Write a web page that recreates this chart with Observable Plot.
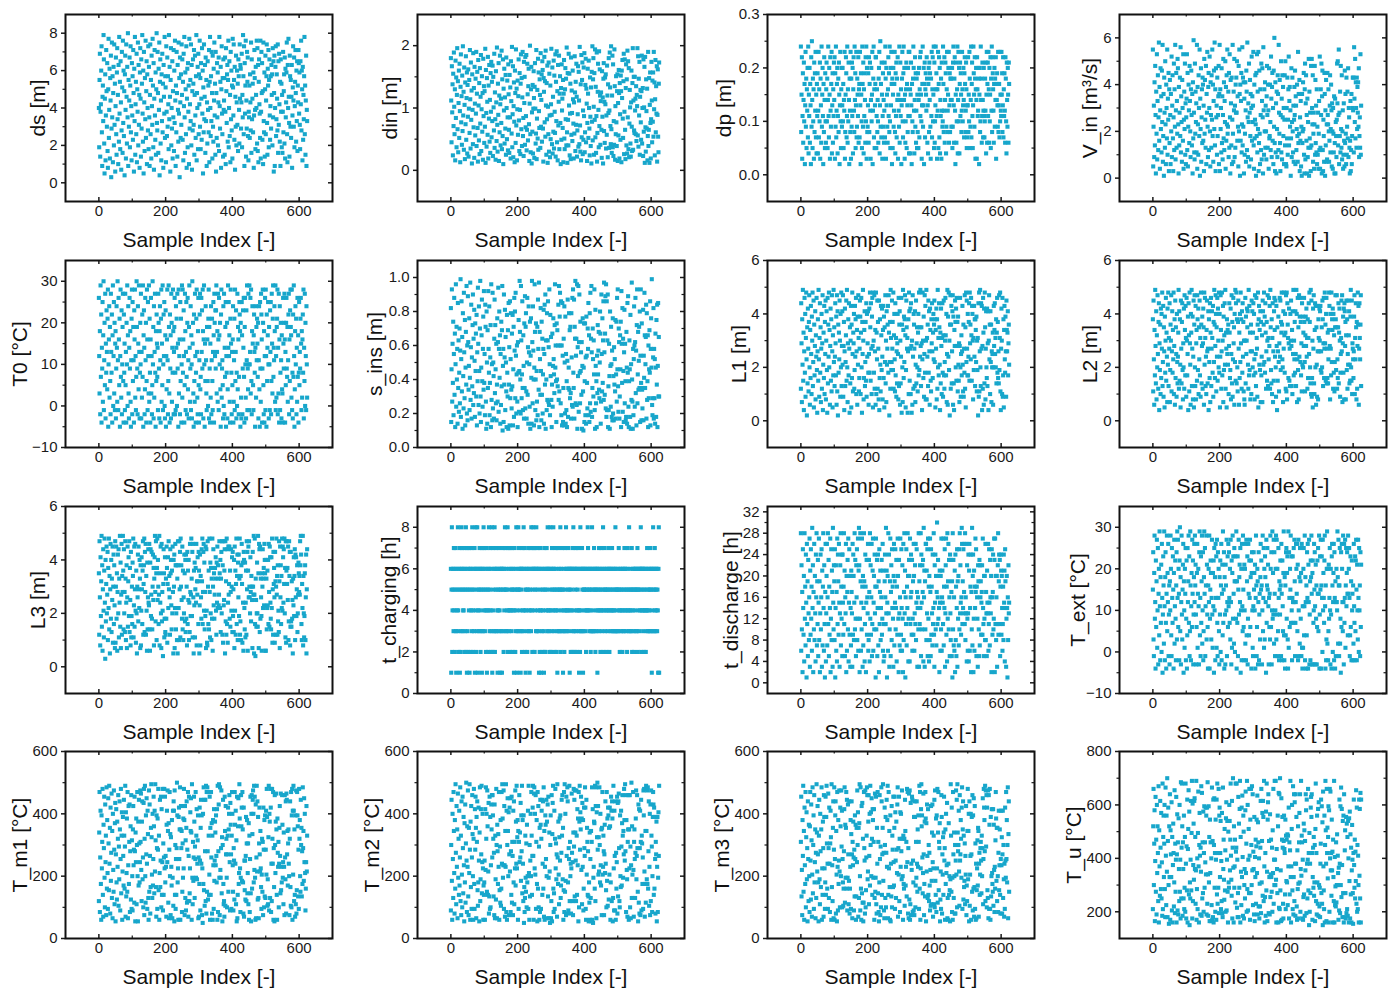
<!DOCTYPE html>
<html>
<head>
<meta charset="utf-8">
<script src="https://cdn.jsdelivr.net/npm/d3@7"></script>
<script src="https://cdn.jsdelivr.net/npm/@observablehq/plot@0.6"></script>
<style>
  html, body { margin: 0; padding: 0; background: #ffffff; }
  #chart { position: relative; width: 1397px; height: 994px; overflow: hidden; background: #ffffff; }
  .panel { position: absolute; }
  .panel svg { overflow: visible; display: block; }
</style>
</head>
<body>
<div id="chart"></div>
<script>
// ---------------- DATA (sample index = array position) ----------------
// ds in decimetres
const ds_dm = [
40,19,55,69,14,38,42,60,73,27,9,46,52,33,79,66,21,5,45,58,12,36,71,49,30,
64,17,8,50,77,24,39,61,13,56,44,68,3,29,75,35,57,11,48,62,20,74,31,53,6,
41,67,26,15,59,72,34,47,10,63,22,78,37,54,18,65,43,7,28,70,51,16,76,32,60,
25,49,4,58,68,39,13,74,46,21,62,35,80,9,55,30,44,67,19,52,73,27,41,12,64,
36,57,23,71,48,6,61,33,78,15,42,54,26,69,11,50,38,75,20,63,31,47,8,59,72,
45,14,66,29,53,79,37,22,60,5,70,43,17,56,34,76,24,49,65,10,58,40,28,73,18,
62,35,9,47,74,26,55,13,68,41,31,77,52,19,64,7,45,71,36,23,59,15,50,80,32,
28,70,48,16,61,39,75,4,54,66,21,44,12,58,33,69,27,53,8,63,46,37,78,24,57,
51,11,73,38,25,67,30,57,42,18,79,34,62,46,6,55,72,20,40,29,65,13,49,35,71,
17,60,32,76,44,9,52,27,70,48,14,63,39,22,75,37,56,3,67,43,24,58,31,74,47,
66,23,54,12,69,41,78,35,16,59,50,26,73,8,45,61,19,64,38,52,10,77,29,42,55,
33,74,20,63,7,49,28,66,53,31,71,15,47,68,36,24,57,79,12,48,40,62,18,69,26,
58,42,76,30,56,18,64,45,23,72,37,60,5,51,27,74,34,46,63,16,67,33,55,9,43,
21,65,39,52,27,71,11,54,78,40,25,57,33,70,48,13,68,30,22,61,44,75,36,53,15,
70,6,48,24,64,35,59,20,43,67,17,78,41,29,54,62,8,50,73,37,26,56,14,66,39,
44,56,15,67,38,10,72,49,32,58,63,22,55,76,19,40,65,25,47,11,70,34,60,28,52,
13,77,51,36,74,55,23,62,7,46,30,68,20,43,60,31,53,17,66,57,39,21,74,45,63,
61,29,43,69,19,47,35,79,57,26,73,9,64,37,52,76,14,44,29,70,54,67,25,12,38,
35,52,24,58,43,28,75,16,66,34,45,53,27,59,8,36,71,56,39,18,62,47,40,76,21,
72,17,63,11,54,66,42,37,24,76,13,38,70,48,64,23,49,10,75,33,27,59,14,50,68,
26,44,57,74,32,15,61,52,71,19,55,66,36,23,41,57,29,63,47,58,20,72,35,65,6,
48,68,9,40,62,73,25,34,58,45,28,74,16,65,31,69,42,22,54,9,66,38,53,19,47,
16,38,70,27,49,58,21,67,13,61,35,43,59,75,26,11,63,40,77,46,32,14,68,57,30,
55,24,46,63,8,36,51,73,44,30,67,19,41,54,71,48,22,60,33,65,17,52,43,71,64,
37,59,31,18,65,42,76,28,60,50,12,62,23,47,34,57,78,26,52,15,44,68,9,39,33
];
// din in centimetres
const din_cm = [
180,112,45,167,93,138,24,155,71,189,102,58,130,16,176,84,149,37,121,196,66,143,29,108,160,
52,171,95,13,134,186,77,119,41,152,63,199,88,126,33,165,105,18,141,74,183,49,116,157,27,
137,86,162,22,99,145,60,193,114,35,173,81,128,11,154,97,42,188,69,132,20,166,107,56,147,
91,190,39,123,158,68,14,177,104,48,140,26,164,75,118,185,31,98,151,62,124,17,179,87,135,
44,127,70,195,12,161,92,38,148,110,57,182,19,136,83,169,46,113,28,156,94,174,53,142,79,
168,23,150,101,64,187,36,125,82,17,159,109,47,197,73,30,139,89,172,15,120,61,184,106,40,
115,76,192,34,146,55,178,10,131,96,163,43,117,67,153,25,181,100,50,144,85,32,170,122,65,
28,153,85,133,19,175,111,59,198,37,90,167,21,103,141,78,13,160,124,44,194,72,131,16,98,
144,57,119,178,80,31,156,97,26,139,186,66,148,39,117,190,55,84,23,174,108,150,41,182,69,
87,185,32,65,171,122,48,135,163,74,15,107,200,58,29,130,166,11,93,62,137,27,99,159,116,
20,134,172,99,43,59,193,18,83,129,51,179,33,157,95,68,146,121,36,188,70,113,154,46,175,
161,67,14,148,126,182,77,143,54,192,104,25,140,82,168,12,102,58,173,30,155,88,21,136,50,
106,195,89,42,165,27,118,62,176,35,152,94,60,186,22,142,79,191,45,127,16,169,72,110,184,
34,123,151,76,10,132,49,170,96,115,68,145,13,123,177,51,34,130,164,82,147,40,197,61,12,
156,81,40,187,104,155,24,91,139,18,181,57,128,92,47,160,114,75,19,109,59,183,125,31,142,
73,171,118,22,64,90,167,38,158,112,42,198,72,30,138,16,185,53,145,173,26,96,49,165,87,
188,29,61,137,179,45,131,107,15,76,163,123,52,176,100,67,24,149,86,39,133,11,158,78,199,
48,146,180,102,25,156,81,194,53,134,28,87,189,14,60,126,171,97,37,191,71,162,120,41,111,
125,65,20,159,86,117,11,147,172,63,110,44,149,106,154,35,88,57,168,120,21,138,92,180,36,
96,189,133,71,42,199,66,28,120,184,37,170,23,79,41,194,135,17,103,58,151,77,39,127,154,
15,108,56,161,124,19,140,90,49,152,127,13,160,116,177,83,52,143,187,26,94,178,65,18,132,
170,40,146,27,192,85,175,34,164,21,75,129,101,43,22,109,160,70,31,140,196,33,112,150,64,
60,150,96,115,58,135,47,121,103,196,56,183,38,147,88,174,25,118,129,77,49,127,184,43,100,
132,23,178,62,101,166,12,182,69,30,146,95,67,131,16,55,190,39,65,148,12,105,157,76,19,
82,174,112,45,144,78,157,54,190,98,141,24,114,177,61,135,91,167,14,89,162,54,29,139,173
];
// dp in centimetres
const dp_cm = [
24,8,15,22,3,11,19,6,14,21,10,17,2,13,23,9,18,5,16,12,20,7,24,4,15,
11,20,6,17,13,2,22,9,25,14,5,18,10,16,3,21,8,19,12,23,7,15,4,17,11,
19,4,12,23,7,16,10,21,3,18,13,6,24,9,15,20,11,2,17,8,22,14,5,19,10,
6,16,21,10,18,5,14,24,11,7,20,15,3,22,12,9,17,23,4,13,19,6,16,11,21,
14,22,3,19,9,24,7,12,17,20,4,11,18,8,21,15,2,13,23,10,5,16,20,9,13,
20,10,17,5,14,12,23,3,8,15,22,19,7,11,24,6,16,10,21,14,2,18,12,8,23,
3,18,9,21,11,20,4,16,22,12,8,24,14,19,5,13,23,7,9,18,15,11,22,6,16,
17,7,23,13,2,19,15,10,5,24,17,9,21,4,16,11,19,14,6,22,10,24,3,20,8,
9,13,19,6,22,8,17,21,12,3,14,20,10,15,23,2,12,18,24,7,16,5,13,17,22,
22,5,11,16,8,14,10,6,18,20,23,4,13,25,9,17,7,21,15,3,11,19,9,14,6,
12,21,7,24,18,3,20,13,15,9,6,16,22,11,19,8,24,10,5,20,13,23,17,2,18,
5,15,20,9,12,17,23,8,4,19,11,21,7,18,14,22,3,15,12,9,24,6,14,21,11,
16,2,13,18,23,10,7,19,24,14,20,3,15,6,10,16,21,5,17,13,8,20,11,23,4,
23,11,16,4,15,21,13,2,17,10,8,18,24,20,12,4,14,22,9,19,6,12,18,5,15,
8,19,5,14,20,7,16,22,11,23,15,10,3,13,17,24,9,13,20,2,17,21,7,16,19,
15,12,22,18,6,13,4,17,20,8,21,14,19,9,3,18,11,23,7,16,22,10,15,24,5,
21,6,10,13,24,16,19,11,3,16,12,23,5,17,22,7,20,4,14,11,18,3,21,12,9,
10,24,17,8,12,22,6,14,21,19,4,9,16,23,8,12,15,20,23,6,13,19,8,18,14,
18,9,14,20,5,9,21,24,13,6,18,22,12,2,15,21,6,10,16,24,4,14,23,10,20,
4,17,21,11,19,15,8,12,23,16,10,13,20,14,7,19,22,17,8,12,21,16,5,13,7,
13,22,8,15,10,23,18,5,9,14,24,7,17,21,11,5,13,24,19,15,9,22,18,3,16,
20,14,3,22,16,11,12,20,18,2,15,20,8,10,24,14,18,6,11,21,14,7,12,20,11,
7,10,18,12,21,4,15,23,6,17,21,11,23,16,6,20,10,15,22,5,18,12,24,8,22,
19,16,12,6,17,20,9,18,14,22,3,17,14,19,13,9,23,8,13,17,7,23,10,15,12,
11,23,15,19,8,13,22,7,16,11,19,12,6,22,18,10,4,21,14,9,20,15,6,21,17
];
// V_in in tenths of m³/s
const V_in_tenths = [
55,5,22,31,9,41,14,48,27,2,37,19,53,8,33,44,12,26,58,16,39,4,29,47,21,
35,11,46,24,57,7,18,36,1,43,28,13,50,23,6,40,30,17,55,10,34,25,45,3,38,
15,42,27,6,36,20,52,9,31,44,17,3,26,49,12,38,22,57,8,29,45,13,33,19,51,
47,23,2,39,14,28,43,18,56,11,35,24,7,42,30,16,53,4,25,37,21,49,10,32,6,
26,34,53,12,45,5,22,40,29,15,48,33,20,9,38,46,27,14,36,2,41,17,59,28,11,
8,49,19,37,24,32,11,57,4,39,23,10,44,30,18,55,1,34,21,47,7,26,38,15,43,
40,16,31,3,51,19,42,25,13,48,6,36,28,54,22,9,39,45,12,30,52,20,5,41,27,
13,44,25,55,18,40,7,33,46,21,58,14,38,3,47,26,31,10,43,18,27,35,48,6,36,
57,3,38,21,30,11,47,15,35,8,27,51,17,41,12,33,24,50,4,39,16,44,23,55,19,
22,37,9,45,13,53,26,2,42,32,14,43,6,25,57,19,7,37,29,51,9,31,13,40,28,
43,28,50,16,35,22,5,48,20,55,36,1,40,16,33,45,11,23,56,14,43,22,41,2,34,
10,19,41,29,7,46,37,12,58,26,9,32,24,49,5,28,42,18,36,8,30,52,16,35,24,
31,54,14,4,40,17,25,44,23,1,45,18,53,11,37,21,54,3,15,46,19,6,38,27,12,
49,8,33,47,26,2,56,29,10,38,20,41,13,31,20,8,35,48,27,13,40,29,4,47,17,
18,40,24,12,52,34,9,39,45,16,30,6,46,22,60,15,3,41,11,32,2,37,21,9,44,
36,12,57,28,19,42,15,3,27,50,11,34,8,44,26,39,18,30,6,25,44,14,50,30,6,
5,30,17,43,10,25,38,52,14,33,39,22,29,1,17,47,9,24,43,20,11,31,7,25,39,
27,46,6,35,31,12,21,40,18,7,54,15,36,19,42,3,26,16,33,5,22,1,36,15,20,
41,21,45,10,2,38,49,8,32,44,16,27,2,34,9,24,13,51,1,37,17,28,13,3,48,
14,51,30,23,44,7,19,28,4,23,48,10,42,15,31,11,38,6,22,10,28,4,19,33,12,
52,4,13,38,27,49,2,35,46,12,3,25,18,7,45,36,1,29,14,42,7,23,8,45,27,
23,38,20,7,16,31,44,11,21,40,29,5,32,20,4,30,19,11,35,2,15,34,2,24,18,
9,25,49,32,50,14,27,55,6,28,18,37,11,48,21,13,44,8,20,29,4,10,32,16,5,
46,15,36,19,6,43,10,22,37,17,47,9,30,26,13,2,16,33,3,12,36,6,18,30,43,
29,43,11,56,34,24,51,17,41,30,13,43,21,39,28,41,22,47,9,18,26,13,53,10,31
];
// T0 in °C
const T0_C = [
26,12,3,18,-2,29,7,22,-4,14,9,25,1,17,30,-1,11,20,5,27,-3,15,8,23,13,
4,21,28,-5,10,16,24,2,19,6,-2,27,13,8,22,-4,17,29,0,12,25,3,20,-1,15,
18,-3,9,24,14,1,30,11,-1,26,16,5,21,-5,12,28,7,2,23,-2,10,19,27,6,-4,
22,8,15,-1,27,5,13,-4,20,10,29,0,17,24,3,-3,14,26,9,18,1,-5,11,21,28,
-2,25,6,19,11,-4,23,16,28,2,12,-1,7,30,19,9,-2,24,15,4,29,13,-3,8,20,
10,27,-3,13,2,22,7,29,-5,17,23,14,-2,4,26,11,20,-4,6,28,16,-1,25,12,3,
29,1,21,8,-4,16,26,3,12,-2,5,30,10,19,-3,24,2,13,27,8,-5,18,6,22,15,
7,14,-1,27,20,9,-3,18,24,11,-4,21,28,1,15,5,29,-1,10,22,12,25,0,-3,17,
23,-5,12,4,16,28,11,-2,6,29,19,3,-4,22,9,17,-3,27,20,1,14,8,28,18,-2,
13,19,26,-2,8,-1,24,14,21,0,27,9,15,-5,28,3,12,16,-2,25,6,21,-4,10,29,
2,28,8,16,23,12,-4,5,27,18,-1,13,25,7,-2,20,26,4,11,-3,19,29,14,1,9,
24,-1,17,10,-3,30,15,20,3,-5,22,6,1,27,12,-4,8,21,28,13,2,-2,18,26,5,
-4,11,22,27,4,7,-2,26,13,23,9,28,18,-3,16,29,10,-5,15,6,24,11,3,-1,19,
16,6,0,21,28,-3,19,9,-4,15,2,24,-2,11,21,6,-1,13,25,17,-4,27,20,12,23,
9,23,29,3,13,18,1,27,16,-1,26,17,10,20,4,-5,22,28,2,9,11,5,-3,24,0,
27,-2,14,7,19,25,-5,12,8,20,-3,4,29,14,25,12,17,1,-4,21,28,15,8,-2,13,
5,16,24,-4,1,11,21,-1,28,6,13,23,-3,8,0,27,4,19,16,-2,7,25,22,18,-5,
20,2,-3,25,17,-2,9,23,14,26,7,-4,19,26,10,2,-3,23,11,29,-1,9,4,27,10,
-1,29,10,13,26,3,28,6,-2,18,24,15,5,-1,17,22,13,8,-5,14,24,2,19,11,21,
15,7,20,-3,11,24,4,-5,25,9,1,27,22,16,-4,9,28,20,5,-2,18,-4,12,26,-1,
28,12,-5,22,6,14,17,25,10,-3,19,10,-1,23,13,25,-2,6,27,15,3,21,29,7,14,
11,24,18,1,29,-1,12,2,19,21,28,-2,14,3,27,-4,16,24,-1,8,20,11,-3,17,4,
3,-4,26,15,9,20,27,16,-4,13,5,20,26,9,7,19,1,11,22,27,-2,16,6,23,28,
19,17,2,28,-1,8,-3,22,7,29,12,-5,4,18,24,10,21,-2,14,1,26,7,17,-4,8,
25,5,13,9,21,26,15,-1,18,2,16,22,8,28,-3,14,6,27,0,20,12,-1,24,10,2
];
// s_ins in centimetres
const s_ins_cm = [
82,15,46,93,27,61,38,74,19,55,88,31,67,12,49,96,24,71,40,58,14,85,35,63,21,
44,70,26,57,99,18,52,86,33,65,11,79,42,23,91,56,29,75,13,47,68,37,95,20,60,
16,89,62,34,48,76,22,41,97,28,59,84,17,53,36,72,90,25,64,32,81,51,18,73,45,
67,30,78,13,56,39,94,61,25,83,45,20,70,98,30,15,47,66,87,39,24,58,77,34,92,
38,55,19,84,71,27,11,80,50,14,69,35,92,58,44,83,19,38,53,72,12,96,28,49,16,
91,23,50,42,17,64,87,32,72,46,26,61,16,37,76,27,62,94,21,58,80,41,66,14,55,
25,74,36,69,95,10,48,58,15,90,37,53,81,22,65,50,33,12,78,44,30,69,11,85,37,
59,13,86,29,52,79,34,23,67,36,78,13,46,71,18,88,57,80,29,91,54,20,43,60,27,
12,62,44,75,21,45,98,68,40,20,95,63,29,43,86,35,22,66,48,17,73,35,89,23,71,
79,33,17,50,88,31,59,14,83,56,49,24,74,11,54,76,41,14,98,62,26,83,57,40,13,
47,96,68,22,40,73,16,45,27,71,19,87,58,34,97,12,68,52,31,82,45,16,74,31,64,
20,43,58,81,14,55,84,37,90,11,63,40,22,79,28,63,86,27,59,25,93,49,19,78,42,
65,28,12,37,67,24,48,76,52,43,32,72,96,47,60,39,15,73,40,69,36,60,84,28,95,
33,77,91,60,26,86,19,60,13,85,54,15,35,64,13,83,50,20,77,14,55,22,39,12,51,
87,18,35,47,79,34,69,29,71,32,17,79,53,25,88,24,93,44,35,87,17,71,64,98,26,
54,64,25,96,11,59,42,95,21,62,90,44,26,74,45,56,31,62,11,48,76,33,10,47,73,
15,39,73,19,53,14,77,54,38,23,70,58,85,19,66,15,79,26,91,21,64,95,56,18,35,
70,52,30,63,43,93,22,11,81,48,26,39,12,54,32,72,43,57,68,34,29,50,80,67,14,
27,90,55,33,76,38,63,86,28,97,56,31,67,89,23,96,18,86,22,63,90,12,36,22,61,
42,11,80,48,24,71,49,18,57,16,76,20,42,16,59,37,52,33,75,17,43,74,27,88,46,
93,36,21,70,62,17,30,66,46,74,12,92,61,38,82,21,64,45,15,56,81,26,61,39,16,
18,68,47,14,85,44,89,24,12,39,63,46,18,78,11,49,28,97,40,27,11,58,19,52,83,
60,24,62,88,32,57,13,72,93,26,43,68,34,51,71,35,80,15,54,93,38,16,73,34,23,
35,81,16,54,41,91,66,35,49,65,84,17,79,28,39,66,12,60,29,46,69,44,86,13,58,
76,47,99,25,19,29,53,82,17,58,29,52,14,67,47,18,75,37,84,12,48,85,30,65,30
];
// L1, L2, L3 in decimetres
const L1_dm = [
12,44,29,7,38,21,49,15,33,4,26,46,18,40,9,31,48,23,2,35,14,42,27,11,37,
47,20,6,34,16,43,25,10,39,30,48,13,22,45,5,36,17,28,41,8,32,24,46,19,3,
26,38,15,49,23,9,31,44,18,35,7,27,40,12,29,47,4,21,33,16,43,10,37,25,45,
8,30,41,19,3,46,14,36,24,48,20,34,6,28,42,15,38,11,47,26,5,32,17,49,22,
35,13,24,44,29,17,39,6,47,11,41,2,36,18,33,23,45,30,9,40,20,48,13,28,41,
21,47,9,28,37,4,26,42,13,22,32,45,15,49,20,7,29,38,17,44,27,3,35,14,30,
43,5,36,16,48,25,11,33,29,40,12,19,43,24,38,46,10,26,34,6,39,21,47,31,11,
16,27,45,39,10,33,46,20,3,37,25,49,30,8,16,34,41,13,22,37,15,44,9,40,24,
29,41,18,6,25,42,18,48,35,15,44,27,10,39,46,28,5,48,30,18,47,12,26,34,6,
48,10,33,23,45,12,37,27,8,45,4,16,38,21,11,43,32,19,42,24,8,34,43,16,39,
5,35,22,47,14,30,7,41,21,27,36,43,18,47,33,2,22,37,12,49,31,19,22,45,27,
37,19,48,12,32,40,23,11,44,17,31,9,26,14,29,40,25,8,46,13,36,41,6,30,14,
24,46,3,36,20,7,49,34,16,39,22,38,47,32,5,19,45,35,27,31,3,26,38,10,48,
41,15,27,42,10,44,28,3,30,6,47,24,12,40,36,27,13,41,7,21,45,14,29,35,20,
11,33,40,17,48,19,35,24,49,28,13,35,29,4,23,48,30,16,39,9,25,47,18,43,8,
30,49,8,31,24,36,13,45,18,41,26,6,42,34,15,11,38,29,44,26,16,33,40,23,36,
45,22,38,5,34,27,42,8,38,12,49,20,31,17,44,35,21,4,33,14,42,28,10,31,44,
18,9,32,45,17,12,22,30,46,32,17,40,7,25,49,6,39,24,48,19,30,2,36,47,12,
36,43,14,26,41,47,6,39,14,4,34,28,45,37,20,42,15,46,28,37,11,39,21,15,29,
7,28,46,20,9,25,32,17,26,43,21,11,36,9,27,18,47,12,35,5,48,22,45,27,17,
40,17,24,37,44,15,48,29,36,23,46,32,15,43,40,30,8,31,19,43,24,38,13,38,34,
22,39,11,30,19,31,2,44,9,48,11,26,49,20,13,44,27,43,4,28,12,46,33,6,42,
14,48,35,8,27,41,20,16,42,13,29,41,4,30,47,23,36,10,41,22,36,7,26,20,25,
33,6,20,43,28,34,44,25,31,20,38,14,33,46,18,37,16,26,14,47,19,31,48,11,4,
27,42,30,10,46,9,17,38,5,34,43,23,18,39,26,9,45,34,26,33,41,17,29,36,21
];
const L2_dm = [
38,11,45,23,6,34,17,49,28,14,41,8,32,20,47,25,12,37,44,4,29,19,36,10,42,
16,40,27,48,13,22,43,9,35,26,5,39,18,30,46,15,33,24,7,42,21,48,13,31,27,
44,7,19,36,30,47,11,26,41,18,34,23,48,10,28,38,6,45,16,35,25,9,40,22,14,
24,33,49,12,41,15,38,21,5,45,27,14,37,44,19,8,29,20,42,12,47,34,17,43,31,
9,46,30,17,25,39,4,44,32,11,48,29,21,6,40,33,49,13,27,39,8,24,45,5,36,
47,20,13,43,8,29,34,15,47,38,19,42,10,35,23,45,17,31,9,48,36,14,28,39,12,
29,42,35,6,48,21,46,31,13,24,10,34,45,26,14,27,41,4,38,22,16,44,7,33,46,
13,27,41,31,18,43,9,37,22,49,36,16,28,47,40,11,35,24,46,15,42,30,20,48,18,
40,5,24,47,34,12,26,48,17,30,43,7,39,19,32,44,21,49,12,33,27,5,38,25,34,
21,36,10,28,44,33,16,19,42,8,25,47,14,37,9,23,46,29,35,6,40,22,49,15,44,
48,14,38,20,11,37,45,27,6,33,16,40,22,48,29,38,12,41,18,44,24,37,11,30,8,
6,30,46,14,39,25,30,42,35,41,21,12,49,17,43,19,33,8,26,36,10,45,26,41,20,
33,44,17,40,23,8,47,18,25,13,46,31,27,9,36,48,5,38,43,21,34,19,41,7,37,
17,24,32,7,45,41,21,36,48,22,39,18,44,33,12,26,37,15,30,47,13,31,23,46,28,
43,12,49,35,19,14,38,10,31,44,7,26,15,41,46,34,24,45,20,9,43,28,4,35,15,
26,39,22,11,29,46,24,45,19,37,33,48,36,23,20,7,41,27,48,32,18,40,33,12,47,
11,48,8,44,36,31,16,29,42,15,27,13,40,30,45,28,13,34,10,41,25,49,17,30,23,
37,18,41,25,13,49,40,7,23,46,19,35,8,47,24,39,46,22,37,17,29,11,44,21,39,
20,33,28,46,37,22,11,32,39,28,42,24,31,12,38,16,31,44,25,48,37,20,14,49,10,
45,9,16,30,5,42,27,47,14,10,34,44,20,43,6,35,21,9,43,26,8,38,31,26,42,
30,41,43,19,26,18,35,20,45,38,13,29,46,16,27,48,29,36,15,40,46,14,27,16,33,
14,23,34,48,43,28,8,40,27,17,48,22,38,34,42,12,40,18,32,11,22,35,47,38,19,
35,47,12,23,16,35,44,14,33,42,30,9,18,25,31,45,26,47,7,29,39,18,42,8,44,
41,28,37,8,32,45,19,38,12,25,21,45,32,41,14,21,15,39,49,20,15,45,10,29,27,
23,16,26,39,47,10,31,23,44,35,8,37,12,28,48,36,43,6,27,44,31,23,36,47,13
];
const L3_dm = [
35,12,47,26,8,41,19,32,49,15,38,6,29,44,21,11,36,48,24,3,40,17,31,45,20,
27,43,10,37,22,48,14,34,5,29,46,18,40,13,33,25,45,9,30,42,16,38,23,7,47,
9,30,45,18,35,6,28,42,20,44,11,33,24,49,15,39,7,27,46,12,34,28,49,36,14,
44,20,28,13,47,33,10,24,38,7,26,45,15,32,41,19,47,13,37,25,8,43,11,19,30,
16,39,34,48,11,23,45,15,29,46,21,9,36,20,5,30,26,42,17,45,29,22,40,33,7,
38,8,21,41,29,16,36,47,12,31,38,48,13,43,28,46,12,34,21,6,39,14,26,44,24,
23,46,14,6,39,44,19,27,43,18,14,30,42,25,37,8,33,41,49,28,17,47,35,10,37,
48,25,40,30,16,27,49,8,35,24,45,20,7,46,17,28,21,4,31,44,35,11,18,41,13,
12,33,18,45,37,9,31,41,22,47,29,34,26,12,44,35,40,23,14,36,20,45,28,5,40,
30,42,7,22,46,38,14,20,38,10,33,5,47,38,22,10,47,29,43,11,48,30,38,25,18,
45,14,36,10,26,20,42,35,17,40,13,42,18,30,8,43,16,36,25,40,10,24,13,46,28,
19,27,48,33,19,43,11,46,26,5,36,23,39,11,29,37,24,46,8,32,27,41,32,16,43,
36,5,23,42,8,34,26,18,44,32,48,16,28,43,46,21,39,14,28,19,45,7,44,21,9,
8,47,30,16,36,14,48,28,11,39,20,37,10,33,18,48,6,30,44,23,35,18,27,37,33,
41,21,12,39,24,45,22,38,33,23,27,47,35,22,40,13,33,43,20,47,12,38,9,47,23,
25,36,44,5,47,17,32,12,48,16,44,9,24,45,27,31,45,18,36,15,28,44,21,30,41,
13,43,19,29,13,40,7,45,21,36,12,31,48,16,34,42,10,39,26,42,19,33,48,12,17,
34,10,38,46,31,9,39,24,6,43,40,22,14,39,11,24,36,12,47,29,43,6,36,45,26,
47,30,26,20,41,28,17,34,30,25,7,43,30,27,49,5,27,48,16,4,33,25,15,20,39,
20,15,49,35,7,46,44,13,45,18,33,26,19,6,35,30,44,22,33,37,23,46,40,35,6,
6,40,33,14,22,36,23,40,16,46,28,15,45,41,24,18,14,41,22,48,9,29,12,43,31,
37,26,9,43,32,12,30,48,27,34,12,38,17,21,13,47,32,7,45,26,38,16,34,22,48,
21,45,41,24,44,31,48,20,37,11,47,9,36,47,31,37,25,45,10,17,47,34,43,8,15,
43,17,15,32,18,25,5,33,23,41,19,34,44,10,42,26,41,19,29,38,13,20,27,39,35,
28,34,27,47,38,49,42,16,10,31,22,49,8,34,20,11,19,35,38,10,26,42,5,29,44
];
// t_charging in hours
const t_charging_h = [
6,1,5,8,2,4,6,5,3,7,4,6,2,5,7,3,1,6,4,5,3,8,4,6,2,
5,7,1,2,6,3,5,8,6,7,3,5,4,4,6,2,7,5,3,6,8,2,5,1,7,
3,6,2,5,4,7,1,6,5,2,6,4,7,3,8,5,4,2,6,3,5,7,1,6,8,
4,2,6,3,8,5,1,4,6,5,3,7,4,6,2,5,3,6,1,7,5,3,6,8,4,
7,5,3,6,4,2,5,7,1,4,6,2,5,4,8,6,3,5,7,4,2,6,3,8,1,
2,4,7,5,3,6,8,2,6,3,5,7,3,6,4,1,5,4,6,3,7,4,5,1,6,
5,3,6,1,6,3,7,5,2,6,4,5,8,7,3,5,6,3,5,4,8,2,7,4,3,
6,7,4,2,5,4,6,3,5,7,2,4,6,5,1,4,7,5,2,6,3,8,4,1,5,
3,5,8,6,7,5,3,4,6,1,5,6,3,2,6,7,4,3,8,6,4,7,2,5,1,
4,6,5,3,2,6,5,7,4,3,6,1,5,7,4,3,8,6,4,2,5,6,8,7,6,
7,2,4,5,6,3,8,6,3,5,7,4,6,3,1,6,2,4,7,5,1,4,6,3,2,
5,4,6,3,1,7,2,5,6,2,4,5,7,6,3,8,4,6,3,4,6,5,2,8,4,
2,6,3,7,5,4,6,8,5,6,3,2,4,5,7,4,6,2,5,1,3,7,4,5,3,
6,3,5,8,2,6,5,4,7,3,5,1,3,4,6,2,5,7,3,4,8,6,3,4,6,
4,5,7,6,3,5,1,6,4,2,6,4,5,6,2,7,3,8,6,3,4,2,6,5,7,
3,6,2,4,6,5,7,4,3,1,4,6,2,8,3,6,4,3,7,5,6,1,3,6,5,
5,4,6,3,5,2,4,6,5,4,8,7,6,4,5,3,6,5,4,2,3,6,5,8,3,
6,3,4,5,7,3,6,5,2,6,5,3,4,6,1,5,4,6,3,7,5,4,6,2,5,
4,7,3,6,4,5,8,2,6,4,7,5,3,5,6,4,2,5,6,4,3,5,7,4,6,
2,5,6,4,3,6,5,4,7,3,5,4,6,3,4,6,5,3,8,6,5,3,4,5,3,
5,6,3,7,5,4,2,6,4,5,3,6,4,5,2,3,6,4,5,3,7,6,4,6,5,
3,4,5,2,6,7,4,5,3,8,4,3,5,6,4,5,3,7,2,5,4,6,3,5,2,
6,5,4,6,3,5,6,3,5,7,2,5,6,4,3,6,5,4,6,8,5,2,6,4,6,
4,3,6,5,2,4,5,6,4,2,6,4,3,7,5,4,3,6,5,4,6,3,5,7,3,
5,6,1,4,6,3,8,5,6,3,5,7,4,3,6,5,4,6,3,5,4,1,6,8,1
];
// t_discharge in hours
const t_discharge_h = [
28,6,22,10,17,2,25,14,9,20,4,28,12,18,7,24,15,1,26,11,19,5,23,13,8,
16,27,3,21,9,25,12,18,6,29,14,22,2,17,10,26,8,20,13,4,24,16,28,7,19,
11,23,5,15,27,8,19,2,13,24,10,16,25,3,21,7,18,28,14,6,22,11,1,17,26,
4,13,20,26,7,16,28,11,23,5,18,9,14,27,2,12,25,8,21,17,3,29,15,10,22,
19,8,25,1,14,22,6,17,4,27,11,24,19,9,26,15,3,13,22,28,7,18,12,24,5,
24,15,9,18,28,11,21,5,16,13,26,2,20,6,17,23,10,27,4,15,25,9,20,3,14,
7,21,17,13,3,26,9,24,20,8,15,28,10,23,12,5,22,16,25,8,12,27,6,21,29,
22,2,12,28,19,6,15,10,27,18,3,20,7,14,28,19,4,11,24,18,2,15,23,9,16,
13,26,6,8,23,17,4,28,12,22,9,16,26,5,11,21,27,6,15,20,10,24,13,18,1,
27,10,18,23,5,14,24,7,19,2,25,11,17,21,8,14,16,23,9,12,26,6,21,4,11,
5,19,24,16,11,29,13,21,1,15,20,6,28,13,24,3,10,19,27,5,17,22,8,25,14,
18,12,3,20,26,7,19,15,25,10,14,23,4,18,9,27,20,12,2,23,13,7,16,27,6,
9,25,14,6,22,12,2,26,8,17,28,13,21,1,16,11,25,7,18,14,28,20,4,12,23,
20,4,27,11,16,24,17,9,23,6,12,19,9,26,20,6,13,22,11,26,8,15,25,17,3,
14,16,10,28,3,19,11,22,14,28,5,24,15,10,22,17,23,4,29,16,21,3,19,10,26,
26,8,21,13,25,5,27,12,18,4,20,8,27,17,5,25,9,18,13,7,24,11,14,28,9,
3,22,15,24,10,20,7,17,30,11,16,23,12,20,14,2,21,15,6,20,10,27,6,16,21,
15,11,27,7,18,14,25,3,13,22,27,9,18,4,28,12,19,26,10,23,16,5,24,13,8,
23,17,5,19,1,28,10,23,7,16,6,21,2,24,8,18,5,14,25,3,19,12,20,7,25,
10,28,13,22,15,9,16,29,26,11,19,14,25,13,17,26,11,28,8,16,13,26,4,22,12,
6,13,24,4,21,26,6,14,18,24,2,17,10,29,7,20,24,2,12,21,6,18,14,27,17,
25,5,18,16,12,3,22,19,10,5,23,7,22,16,19,9,15,17,22,9,27,14,11,5,20,
12,20,8,26,8,17,13,5,21,15,13,26,6,11,25,15,7,23,16,13,20,2,25,16,9,
17,24,10,12,27,23,2,27,11,20,8,16,20,3,11,22,28,9,19,24,11,23,5,18,24,
21,9,20,14,6,11,18,8,24,15,21,4,25,19,14,3,12,20,14,1,16,8,22,13,15
];
// T_ext in °C
const T_ext_C = [
15,24,3,-1,19,28,8,12,-4,22,6,17,27,1,10,25,-3,14,20,4,29,11,-2,18,7,
21,0,26,13,-5,9,23,16,2,29,11,-2,18,24,7,-4,14,28,5,19,12,26,-1,9,16,
-3,17,10,28,20,4,-1,25,13,7,23,15,-4,19,27,2,11,22,8,-2,16,24,3,29,13,
27,6,20,14,-2,22,30,5,18,-3,12,28,9,3,15,21,26,-5,17,10,1,20,14,25,-2,
8,22,-4,4,25,12,17,28,7,23,-1,5,29,16,-2,11,19,6,27,14,22,-3,9,18,26,
12,28,16,21,9,-3,6,19,26,1,14,20,11,-3,24,29,4,13,-1,23,7,17,28,2,10,
24,-2,5,18,29,14,25,-1,11,16,28,3,21,9,6,-4,16,20,12,28,-4,8,15,22,19,
3,13,27,9,1,19,11,22,-5,25,10,18,-2,26,13,23,1,27,7,-1,24,13,20,5,-3,
18,9,22,0,16,26,-2,14,21,4,29,7,15,24,-4,18,9,-3,21,16,10,27,-1,12,23,
6,26,11,24,13,7,20,3,27,12,-3,22,1,19,28,8,23,14,2,25,17,0,23,17,8,
29,-4,17,7,23,-1,15,27,9,18,21,12,25,-5,10,20,-2,26,11,5,28,15,6,-2,21,
10,20,2,26,-2,27,4,17,23,-3,8,26,14,4,22,13,27,6,18,22,-4,19,24,10,1,
-1,11,24,15,19,10,21,-4,13,28,16,-1,6,20,17,-3,12,24,-2,9,14,3,18,26,15,
22,16,-3,10,28,5,13,25,1,20,3,23,18,12,-5,27,7,16,25,15,21,11,-3,13,6,
14,3,28,20,6,24,-3,10,29,8,19,9,27,2,24,14,-1,10,20,28,3,27,9,20,-1,
5,25,13,-2,17,15,9,22,16,-1,26,14,-2,22,11,5,19,29,4,-2,18,-4,16,4,24,
25,8,19,23,3,-4,29,1,24,13,6,20,15,28,7,23,10,-2,13,23,12,7,25,12,27,
17,-1,7,12,26,20,14,26,5,21,-2,27,10,-1,18,2,25,17,8,19,-1,26,1,-4,11,
1,20,25,4,11,28,-2,18,12,-4,16,4,24,13,26,-4,21,12,27,-3,9,17,-2,22,18,
28,14,-3,19,22,-3,7,10,26,15,24,11,-3,21,8,16,-3,6,22,14,25,5,14,28,-4,
9,23,15,27,-4,16,23,13,0,27,10,19,13,7,22,28,11,-4,16,-2,3,20,29,2,20,
-2,5,21,8,13,25,10,-3,20,9,-4,23,26,16,0,12,19,26,-2,24,13,-4,17,-1,12,
20,12,10,29,18,2,27,16,-1,16,25,2,8,-5,24,6,26,20,12,5,28,12,-3,26,7,
13,27,1,16,25,11,19,24,14,4,28,14,20,25,13,-1,4,23,6,17,-2,22,10,14,-2,
16,2,26,11,7,-2,23,5,22,27,15,-2,21,10,3,27,13,0,25,10,16,-1,24,6,21
];
// T_m1, T_m2, T_m3, T_u in °C
const T_m1_C = [
120,340,470,85,260,410,175,60,395,225,310,480,140,70,365,290,455,195,100,430,245,330,75,485,160,
380,210,95,450,305,155,490,240,355,80,420,185,275,465,130,345,65,400,220,150,475,285,110,370,435,
55,270,415,180,125,375,230,320,460,105,295,190,440,350,90,255,480,145,330,405,60,215,390,265,170,
445,330,160,295,490,70,405,135,210,385,150,470,65,235,425,175,310,430,85,280,360,125,460,95,315,
200,90,350,425,235,285,115,455,280,55,340,245,385,110,300,470,200,55,375,170,445,305,180,245,475,
310,465,220,120,375,440,190,260,100,435,480,75,320,490,200,115,395,270,450,240,95,410,335,130,60,
475,150,430,265,80,165,355,495,325,205,130,400,170,255,455,360,145,410,215,495,315,165,70,395,290,
95,385,285,480,155,330,60,210,445,165,250,455,100,415,140,245,480,90,305,140,260,480,225,455,180,
265,230,70,365,410,245,475,345,115,370,65,285,470,200,335,75,325,230,170,380,65,195,410,105,440,
410,55,475,140,300,95,255,140,290,500,395,180,225,60,390,420,255,350,485,60,350,425,290,345,85,
150,305,195,385,225,480,380,75,425,130,315,90,355,440,115,285,120,470,70,265,455,120,145,225,405,
345,450,340,60,495,195,110,310,185,260,455,375,130,295,255,470,195,330,415,190,240,315,395,65,260,
70,175,420,250,90,355,445,240,395,75,225,50,400,175,485,155,445,105,280,445,120,490,80,470,150,
485,280,125,470,330,140,205,455,60,355,140,470,260,370,80,330,60,380,235,95,415,185,250,375,340,
235,395,265,180,415,60,490,85,280,430,495,195,75,485,220,195,290,475,145,325,55,300,445,175,110,
120,70,455,345,105,425,270,320,195,100,270,330,420,150,350,400,460,245,90,435,365,270,95,330,470,
400,235,150,90,290,250,125,470,365,240,410,110,315,55,455,65,140,360,450,175,210,495,385,225,85,
195,460,360,420,185,470,350,180,80,420,70,250,155,250,125,265,390,120,305,380,145,210,305,110,370,
60,330,85,255,455,145,55,400,460,160,335,445,475,400,180,490,220,455,195,60,430,65,260,490,215,
440,125,390,130,65,305,420,270,215,345,225,165,95,205,320,150,310,75,420,285,100,380,135,395,130,
285,410,205,480,390,105,190,110,325,490,90,400,375,130,480,420,85,240,120,480,320,240,470,60,290,
165,55,460,300,210,375,465,350,140,60,385,275,230,310,100,240,355,425,265,145,465,155,230,180,460,
365,195,245,110,340,230,75,460,260,190,440,80,465,445,270,345,170,305,350,240,200,75,320,440,165,
105,470,100,395,480,60,410,205,490,410,120,350,140,70,395,110,475,80,155,470,395,360,135,285,95,
480,320,380,200,150,445,300,355,135,280,175,485,290,345,185,450,245,400,210,90,160,245,425,215,330
];
const T_m2_C = [
90,300,445,185,60,400,255,130,470,345,210,80,380,160,495,275,110,425,230,350,65,465,195,320,140,
410,170,260,485,120,330,75,440,205,100,455,290,145,390,235,55,370,180,430,115,305,500,250,85,360,
230,475,135,75,355,210,495,285,60,375,165,425,95,260,460,335,200,60,320,480,175,95,415,285,455,
355,65,390,310,440,155,105,180,420,250,55,340,485,120,190,415,270,490,145,245,400,225,60,170,140,
180,250,60,415,220,485,320,400,150,475,360,140,215,435,80,135,455,95,390,100,235,430,350,460,260,
460,395,320,135,275,75,430,65,330,190,125,480,300,65,365,280,175,335,230,470,60,155,295,115,380,
105,160,470,240,495,385,195,235,475,95,425,235,70,345,230,495,85,410,60,300,450,345,200,405,75,
270,420,215,450,85,280,140,455,115,310,265,75,410,180,440,110,310,225,475,170,375,240,490,225,325,
380,60,345,95,310,460,245,340,260,435,185,395,280,490,145,380,240,120,395,50,165,85,130,330,195,
150,305,100,365,180,200,410,95,490,210,60,300,135,250,400,200,470,330,140,265,420,490,265,60,465,
485,225,400,205,460,95,310,380,175,55,470,160,425,100,295,60,355,85,445,365,95,320,410,445,140,
240,440,160,485,70,345,60,230,395,365,255,445,200,375,65,430,135,455,195,65,340,215,50,300,395,
65,120,460,55,335,435,490,160,85,145,410,95,320,480,225,305,190,270,70,495,260,175,375,205,110,
325,385,250,395,130,170,275,445,330,460,190,355,60,155,470,85,495,150,400,185,75,455,265,80,485,
440,180,90,290,255,490,120,310,200,240,80,225,465,275,120,245,75,340,480,295,445,135,475,340,250,
120,475,330,140,415,235,385,55,470,100,375,490,285,405,350,455,220,385,110,435,230,380,90,160,420,
290,265,485,420,95,60,445,205,355,310,140,280,135,55,180,115,340,60,255,130,345,55,310,485,60,
415,50,195,230,375,370,160,490,120,425,485,65,405,325,500,285,425,205,325,215,485,300,180,400,235,
170,350,75,355,470,205,230,330,280,75,270,365,210,440,240,155,100,470,185,385,105,420,395,125,355,
205,420,360,60,180,455,410,120,440,385,55,130,490,225,90,410,265,90,440,60,275,160,245,455,80,
435,135,440,465,290,120,100,395,200,165,410,295,170,370,460,330,195,345,270,480,380,250,495,280,460,
85,380,220,190,70,310,350,460,60,350,225,460,100,295,65,235,500,130,360,205,130,470,220,70,310,
350,255,130,275,385,475,190,265,460,290,150,55,430,115,415,80,290,410,75,310,445,90,330,305,175,
260,95,475,395,480,215,70,175,345,115,490,345,190,475,175,485,160,280,440,105,230,400,75,430,120,
475,330,295,85,200,390,470,430,140,420,160,390,255,80,310,270,375,55,230,390,85,195,405,265,490
];
const T_m3_C = [
310,455,135,220,75,380,265,490,150,345,60,420,235,175,470,100,325,405,190,290,55,440,255,120,365,
200,85,360,470,250,125,430,315,70,205,485,145,300,395,95,460,180,245,350,65,275,130,495,340,215,
425,270,180,55,330,445,190,110,400,280,165,350,485,60,225,140,375,290,70,460,390,225,95,180,455,
140,390,490,305,160,240,95,465,290,130,420,240,85,305,410,325,60,495,165,235,120,355,440,65,285,
485,60,255,395,440,80,345,205,55,470,230,90,380,175,250,475,215,100,420,360,200,475,295,410,100,
255,180,105,160,280,415,485,115,365,195,355,470,160,445,90,195,430,270,110,185,440,80,160,230,380,
95,335,440,270,65,310,235,375,260,90,285,135,395,255,365,60,135,355,245,475,300,405,70,355,130,
370,495,200,90,485,160,60,425,145,435,115,320,55,115,470,290,250,80,475,100,155,260,330,485,460,
190,215,375,460,110,265,400,170,490,300,405,200,450,320,140,415,380,195,310,415,60,130,465,150,195,
455,110,80,355,240,470,145,310,85,55,180,460,255,75,295,100,485,440,140,270,355,495,185,275,90,
65,420,300,130,390,100,275,445,230,380,490,65,140,470,225,345,165,60,395,55,240,135,425,100,330,
285,165,455,245,170,355,455,95,405,250,130,375,285,210,430,485,70,290,205,455,120,320,85,405,230,
400,280,190,475,320,200,60,330,175,160,320,105,445,345,170,230,310,135,480,245,470,80,290,65,465,
125,475,60,110,435,75,240,220,455,445,85,250,180,90,390,75,440,390,100,170,310,195,440,240,150,
350,230,395,310,95,490,160,470,60,225,415,495,360,395,260,145,210,465,270,75,175,375,135,470,385,
55,370,215,430,265,130,415,140,300,120,275,170,90,220,105,425,110,185,340,430,245,70,225,330,110,
445,100,475,185,140,385,85,395,225,480,115,340,470,155,310,290,370,55,125,215,95,460,390,80,270,
205,325,140,340,455,250,290,60,350,175,400,210,235,435,65,130,60,240,370,140,200,155,55,190,495,
330,150,420,85,195,60,470,270,130,340,200,80,300,80,250,475,205,445,100,495,340,280,300,410,215,
105,460,250,270,380,320,195,420,485,95,350,440,125,330,165,185,305,110,265,205,425,75,170,120,345,
480,190,345,400,55,440,105,205,265,400,60,270,390,150,460,90,395,160,450,70,165,425,95,305,60,
240,65,155,225,315,170,355,345,70,240,275,140,205,290,310,250,145,330,200,290,450,110,255,480,420,
380,280,490,120,475,295,460,100,420,155,130,475,65,460,95,365,480,95,60,390,135,200,415,210,175,
150,415,105,365,220,85,230,160,315,470,385,185,355,120,355,200,85,275,410,155,235,350,140,80,255,
410,235,325,80,270,410,130,300,190,70,240,95,420,250,195,470,255,380,180,300,485,65,335,440,150
];
const T_u_C = [
210,520,660,300,455,580,165,390,630,275,470,190,600,345,520,420,240,670,160,505,370,260,615,440,285,
570,250,385,185,680,210,480,560,330,455,600,285,180,665,410,225,560,350,700,180,465,590,300,155,520,
330,640,170,505,415,330,610,205,480,160,375,530,420,220,310,655,195,455,275,395,630,160,415,565,205,
460,190,550,360,240,600,275,395,175,685,250,440,680,520,185,460,360,250,560,210,290,480,200,680,380,
175,445,280,620,160,435,510,655,265,575,150,310,250,395,615,280,495,690,175,605,240,375,530,320,615,
625,360,480,230,355,690,170,285,400,210,495,650,370,160,450,570,410,190,440,350,670,185,645,250,460,
270,575,200,420,595,290,460,385,590,340,560,190,590,230,685,340,185,595,310,480,165,545,345,460,165,
400,225,665,170,465,180,620,160,450,625,290,420,200,545,395,170,620,265,680,230,420,290,660,195,560,
590,330,420,540,210,390,240,570,195,180,665,360,470,320,245,510,280,430,200,550,610,205,395,540,275,
160,500,310,290,600,540,355,470,680,410,320,260,615,175,440,700,365,160,520,290,370,470,235,680,425,
440,680,215,395,180,270,630,180,530,290,585,690,160,480,350,225,590,330,635,405,185,560,500,175,300,
360,250,580,650,345,455,200,690,285,600,205,395,510,270,660,410,170,545,270,660,450,300,670,355,640,
225,425,360,190,555,165,405,330,470,230,445,545,345,635,190,535,460,220,400,175,305,220,440,615,195,
660,310,465,570,260,615,555,240,690,370,160,255,420,185,575,280,680,350,165,545,610,640,195,465,330,
190,565,255,340,470,330,275,440,200,505,345,660,230,395,300,690,395,300,690,320,160,435,360,270,560,
520,160,645,215,640,210,700,280,355,165,625,170,470,555,440,230,175,465,560,435,420,265,545,210,485,
315,470,310,490,225,485,370,590,175,460,265,430,690,330,160,370,510,600,280,210,670,190,330,640,240,
610,380,185,640,380,555,220,170,430,285,520,305,175,460,570,310,640,200,360,690,335,485,460,175,395,
170,255,530,265,505,185,465,355,640,580,195,620,380,250,395,660,280,420,150,495,200,380,270,590,630,
555,640,420,170,330,440,290,480,260,310,450,165,510,680,240,420,190,560,310,230,585,185,610,300,220,
290,180,380,455,620,270,595,230,535,150,650,370,280,210,560,160,450,690,505,380,165,660,420,515,325,
480,595,160,580,200,660,400,650,355,420,260,545,355,425,160,470,330,240,690,160,405,225,295,220,460,
235,300,490,300,410,345,170,365,205,620,380,195,595,300,665,255,585,375,180,540,270,560,160,640,180,
430,505,270,175,555,195,530,210,480,185,540,400,160,550,315,575,175,490,265,440,160,355,525,395,270,
155,420,620,375,290,470,250,425,315,655,230,590,200,450,210,410,300,160,620,335,585,250,645,160,620
];

// axis tick values
const xMajorTicks = [0, 200, 400, 600];
const xMinorTicks = [100, 300, 500];
const xLabel = "Sample Index [-]";

// ---------------- PANEL SETUP ----------------
const COLOR = "#17a6cb";
const FONT = "'Liberation Sans', Arial, Helvetica, sans-serif";
const FRAME_LEFT = [65, 417, 767, 1119];
const FRAME_TOP = [14, 260, 506, 751];
const W = 267, H = 187;
const ML = 64, MT = 14, MR = 14, MB = 60;
const f1 = d3.format(".1f");
const fInt = d3.format("d");

const panels = [
  {values: ds_dm, unit: 0.1, label: "ds [m]", domain: [-1, 9], major: [0, 2, 4, 6, 8], minor: [1, 3, 5, 7], fmt: fInt, labelDx: -27},
  {values: din_cm, unit: 0.01, label: "din [m]", domain: [-0.5, 2.5], major: [0, 1, 2], minor: [0.5, 1.5], fmt: fInt, labelDx: -27},
  {values: dp_cm, unit: 0.01, label: "dp [m]", domain: [-0.05, 0.3], major: [0, 0.1, 0.2, 0.3], minor: [0.05, 0.15, 0.25], fmt: f1, labelDx: -43},
  {values: V_in_tenths, unit: 0.1, label: "V_in [m³/s]", domain: [-1, 7], major: [0, 2, 4, 6], minor: [1, 3, 5], fmt: fInt, labelDx: -29},
  {values: T0_C, unit: 1, label: "T0 [°C]", domain: [-10, 35], major: [-10, 0, 10, 20, 30], minor: [-5, 5, 15, 25], fmt: fInt, labelDx: -45},
  {values: s_ins_cm, unit: 0.01, label: "s_ins [m]", domain: [0, 1.1], major: [0, 0.2, 0.4, 0.6, 0.8, 1.0], minor: [0.1, 0.3, 0.5, 0.7, 0.9], fmt: f1, labelDx: -42},
  {values: L1_dm, unit: 0.1, label: "L1 [m]", domain: [-1, 6], major: [0, 2, 4, 6], minor: [1, 3, 5], fmt: fInt, labelDx: -28},
  {values: L2_dm, unit: 0.1, label: "L2 [m]", domain: [-1, 6], major: [0, 2, 4, 6], minor: [1, 3, 5], fmt: fInt, labelDx: -29},
  {values: L3_dm, unit: 0.1, label: "L3 [m]", domain: [-1, 6], major: [0, 2, 4, 6], minor: [1, 3, 5], fmt: fInt, labelDx: -27},
  {values: t_charging_h, unit: 1, label: "t_charging [h]", domain: [0, 9], major: [0, 2, 4, 6, 8], minor: [1, 3, 5, 7], fmt: fInt, labelDx: -28},
  {values: t_discharge_h, unit: 1, label: "t_discharge [h]", domain: [-2, 33], major: [0, 4, 8, 12, 16, 20, 24, 28, 32], minor: [2, 6, 10, 14, 18, 22, 26, 30], fmt: fInt, labelDx: -36},
  {values: T_ext_C, unit: 1, label: "T_ext [°C]", domain: [-10, 35], major: [-10, 0, 10, 20, 30], minor: [-5, 5, 15, 25], fmt: fInt, labelDx: -41},
  {values: T_m1_C, unit: 1, label: "T_m1 [°C]", domain: [0, 600], major: [0, 200, 400, 600], minor: [100, 300, 500], fmt: fInt, labelDx: -45},
  {values: T_m2_C, unit: 1, label: "T_m2 [°C]", domain: [0, 600], major: [0, 200, 400, 600], minor: [100, 300, 500], fmt: fInt, labelDx: -45},
  {values: T_m3_C, unit: 1, label: "T_m3 [°C]", domain: [0, 600], major: [0, 200, 400, 600], minor: [100, 300, 500], fmt: fInt, labelDx: -45},
  {values: T_u_C, unit: 1, label: "T_u [°C]", domain: [100, 800], major: [200, 400, 600, 800], minor: [300, 500, 700], fmt: fInt, labelDx: -45}
];

const chart = document.getElementById("chart");

panels.forEach((p, k) => {
  const col = k % 4, row = Math.floor(k / 4);
  const data = p.values.map((v, i) => ({index: i, value: v * p.unit}));
  const svg = Plot.plot({
    width: W + ML + MR,
    height: H + MT + MB,
    marginLeft: ML, marginTop: MT, marginRight: MR, marginBottom: MB,
    x: {domain: [-100, 700], axis: null},
    y: {domain: p.domain, axis: null},
    style: `font-family: ${FONT}; background: transparent; color: #1a1a1a; overflow: visible;`,
    marks: [
      Plot.dot(data, {x: "index", y: "value", symbol: "square", r: 2.3, fill: COLOR}),
      // y ticks: left outward, right inward
      Plot.tickY(p.major, {y: d => d, insetLeft: -4, insetRight: W, stroke: "#1a1a1a", strokeWidth: 1.5}),
      Plot.tickY(p.minor, {y: d => d, insetLeft: -2.5, insetRight: W, stroke: "#1a1a1a", strokeWidth: 1.2}),
      Plot.tickY(p.major, {y: d => d, insetLeft: W - 4, insetRight: 0, stroke: "#1a1a1a", strokeWidth: 1.5}),
      Plot.tickY(p.minor, {y: d => d, insetLeft: W - 2.5, insetRight: 0, stroke: "#1a1a1a", strokeWidth: 1.2}),
      // x ticks: inward at top and bottom
      Plot.tickX(xMajorTicks, {x: d => d, insetTop: H - 4, insetBottom: 0, stroke: "#1a1a1a", strokeWidth: 1.5}),
      Plot.tickX(xMinorTicks, {x: d => d, insetTop: H - 2.5, insetBottom: 0, stroke: "#1a1a1a", strokeWidth: 1.2}),
      Plot.tickX(xMajorTicks, {x: d => d, insetTop: 0, insetBottom: H - 4, stroke: "#1a1a1a", strokeWidth: 1.5}),
      Plot.tickX(xMinorTicks, {x: d => d, insetTop: 0, insetBottom: H - 2.5, stroke: "#1a1a1a", strokeWidth: 1.2}),
      Plot.frame({stroke: "#111111", strokeWidth: 2}),
      // tick labels
      Plot.text(p.major, {y: d => d, text: d => p.fmt(d), frameAnchor: "left", textAnchor: "end", lineAnchor: "middle", dx: -8, fontSize: 15, fill: "#1a1a1a"}),
      Plot.text(xMajorTicks, {x: d => d, text: d => fInt(d), frameAnchor: "bottom", lineAnchor: "top", dy: 4, fontSize: 15, fill: "#1a1a1a"}),
      // axis titles
      Plot.text([p.label], {text: d => d, frameAnchor: "left", rotate: -90, lineAnchor: "middle", textAnchor: "middle", dx: p.labelDx, fontSize: 21, fill: "#111111"}),
      Plot.text([xLabel], {text: d => d, frameAnchor: "bottom", lineAnchor: "middle", textAnchor: "middle", dy: 39, fontSize: 21, fill: "#111111"})
    ]
  });
  const div = document.createElement("div");
  div.className = "panel";
  div.style.left = (FRAME_LEFT[col] - ML) + "px";
  div.style.top = (FRAME_TOP[row] - MT) + "px";
  div.style.width = (W + ML + MR) + "px";
  div.style.height = (H + MT + MB) + "px";
  div.appendChild(svg);
  chart.appendChild(div);
});
</script>
</body>
</html>
